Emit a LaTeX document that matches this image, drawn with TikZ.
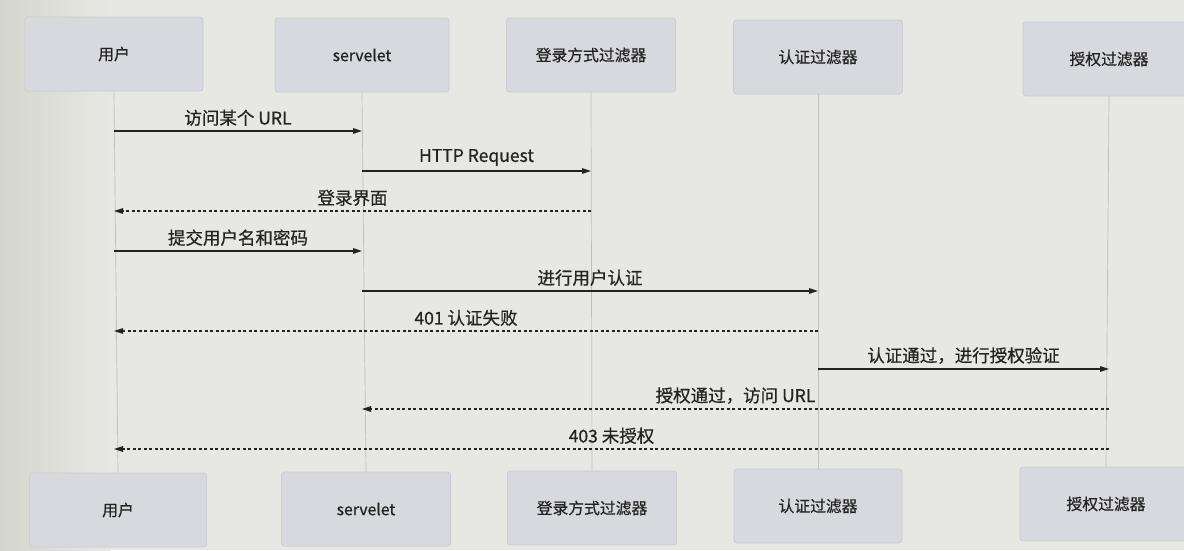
\documentclass[tikz,border=0pt]{standalone}
\usepackage{fontspec}
\setmainfont{Noto Sans CJK SC}
\newfontfamily\cjkm{Noto Sans CJK SC}[FakeBold=0.6]
\usetikzlibrary{arrows.meta}
\definecolor{bgcol}{RGB}{231,232,227}
\definecolor{bgdark}{RGB}{212,213,204}
\definecolor{boxfill}{RGB}{216,216,223}
\definecolor{boxline}{RGB}{203,203,211}
\definecolor{ink}{RGB}{35,35,35}
\definecolor{lifecol}{RGB}{190,190,188}
\begin{document}
\begin{tikzpicture}[x=1pt,y=-1pt,
  actor/.style={draw=boxline, fill=boxfill, rounded corners=3pt, minimum height=74pt, text=ink, font=\cjkm\fontsize{15.8}{18}\selectfont, line width=0.8pt},
  life/.style={draw=lifecol, line width=0.7pt},
  msg/.style={draw=ink, line width=1.2pt, -{Triangle[length=9pt,width=5.5pt]}},
  reply/.style={draw=ink, line width=1.2pt, dash pattern=on 3pt off 2.5pt, -{Triangle[length=9pt,width=5.5pt]}},
  lbl/.style={midway, above=3.5pt, inner sep=1pt, text=ink, font=\cjkm\fontsize{17.5}{20}\selectfont}]
\useasboundingbox (0,0) rectangle (1184,550);
\fill[bgcol] (0,0) rectangle (1184,550);
\shade[left color=bgdark, right color=bgcol] (0,0) rectangle (110,550);

% top participants
\node[actor, minimum width=178pt] (u1) at (114,54) {用户};
\node[actor, minimum width=174pt] (s1) at (362,55) {servelet};
\node[actor, minimum width=169pt] (l1) at (591,55) {登录方式过滤器};
\node[actor, minimum width=169pt] (r1) at (818,57) {认证过滤器};
\node[actor, minimum width=172pt] (a1) at (1109,59) {授权过滤器};
% bottom participants
\node[actor, minimum width=177pt] (u2) at (118,510) {用户};
\node[actor, minimum width=169pt] (s2) at (366,509) {servelet};
\node[actor, minimum width=169pt] (l2) at (592,508) {登录方式过滤器};
\node[actor, minimum width=168pt] (r2) at (818,506) {认证过滤器};
\node[actor, minimum width=172pt] (a2) at (1106,504) {授权过滤器};

% lifelines
\draw[life] (u1.south) -- (u2.north);
\draw[life] (s1.south) -- (s2.north);
\draw[life] (l1.south) -- (l2.north);
\draw[life] (r1.south) -- (r2.north);
\draw[life] (a1.south) -- (a2.north);

% messages
\draw[msg] (u1 |- 0,131) -- node[lbl]{访问某个 URL} (s1 |- 0,131);
\draw[msg] (s1 |- 0,171) -- node[lbl]{HTTP Request} (l1 |- 0,171);
\draw[reply] (l1 |- 0,211) -- node[lbl]{登录界面} (u1 |- 0,211);
\draw[msg] (u1 |- 0,251) -- node[lbl]{提交用户名和密码} (s1 |- 0,251);
\draw[msg] (s1 |- 0,291) -- node[lbl]{进行用户认证} (r1 |- 0,291);
\draw[reply] (r1 |- 0,331) -- node[lbl]{401 认证失败} (u1 |- 0,331);
\draw[msg] (r1 |- 0,369) -- node[lbl]{认证通过，进行授权验证} (a1 |- 0,369);
\draw[reply] (a1 |- 0,409) -- node[lbl]{授权通过，访问 URL} (s1 |- 0,409);
\draw[reply] (a1 |- 0,449) -- node[lbl]{403 未授权} (u1 |- 0,449);
\end{tikzpicture}
\end{document}
